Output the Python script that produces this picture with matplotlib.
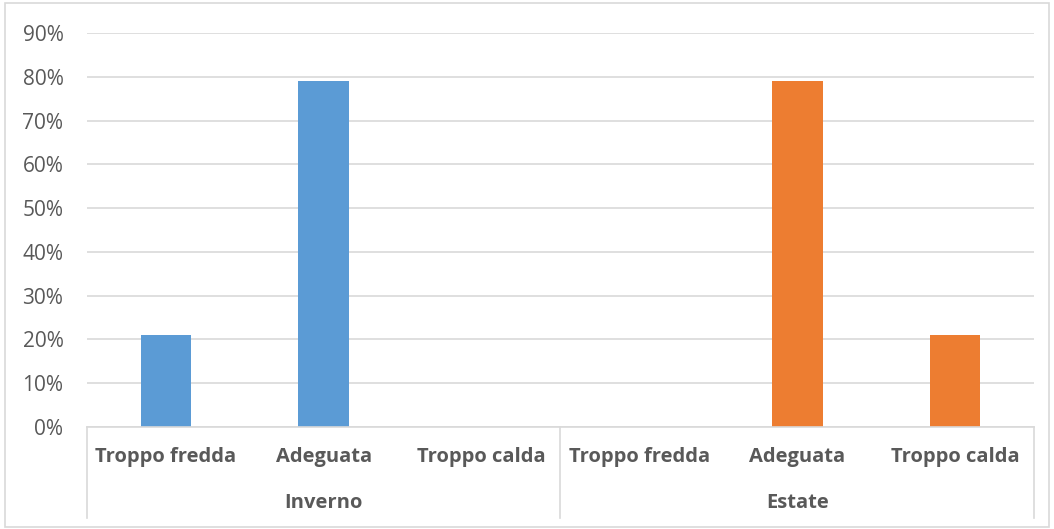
import matplotlib.pyplot as plt
import matplotlib.transforms as mtransforms
from matplotlib.patches import Rectangle
from matplotlib.ticker import PercentFormatter

# Dati
categorie = ["Troppo fredda", "Adeguata", "Troppo calda"]
stagioni = ["Inverno", "Estate"]
inverno = [0.21, 0.79, 0.0]
estate = [0.0, 0.79, 0.21]
y_ticks = [0.0, 0.1, 0.2, 0.3, 0.4, 0.5, 0.6, 0.7, 0.8, 0.9]

plt.rcParams["font.family"] = ["Open Sans", "DejaVu Sans"]
grigio_testo = "#595959"
grigio_linee = "#d9d9d9"

fig = plt.figure(figsize=(10.54, 5.29), dpi=100)
ax = fig.add_axes([87 / 1054, 102 / 529, (1034 - 87) / 1054, (427 - 33) / 529])

# bordo esterno del grafico
fig.patches.append(Rectangle((5 / 1054, 2 / 529), 1044 / 1054, 524 / 529,
                             transform=fig.transFigure, fill=False,
                             edgecolor=grigio_linee, linewidth=1.2))

n = len(categorie)
pos_inv = list(range(n))
pos_est = [n + i for i in range(n)]
larghezza = 0.32

ax.bar(pos_inv, inverno, width=larghezza, color="#5B9BD5", zorder=3)
ax.bar(pos_est, estate, width=larghezza, color="#ED7D31", zorder=3)

ax.set_xlim(-0.5, 2 * n - 0.5)
ax.set_ylim(0, 0.9)
ax.set_yticks(y_ticks)
ax.yaxis.set_major_formatter(PercentFormatter(1.0, decimals=0))
ax.tick_params(axis="y", length=0, pad=17, labelsize=15, labelcolor=grigio_testo)
ax.tick_params(axis="x", length=0, labelbottom=False)
ax.grid(axis="y", color=grigio_linee, linewidth=1.2, zorder=0)
ax.set_axisbelow(True)

for lato in ["left", "right", "top"]:
    ax.spines[lato].set_visible(False)
ax.spines["bottom"].set_color(grigio_linee)
ax.spines["bottom"].set_linewidth(1.2)
ax.spines["bottom"].set_zorder(4)

trans = mtransforms.blended_transform_factory(ax.transData, ax.transAxes)

# etichette delle categorie
for i, pos in enumerate(pos_inv + pos_est):
    ax.text(pos, -0.076, categorie[i % n], transform=trans, ha="center", va="center",
            fontsize=14.5, fontweight="bold", color=grigio_testo)

# etichette delle stagioni
for j, nome in enumerate(stagioni):
    ax.text(j * n + (n - 1) / 2, -0.193, nome, transform=trans, ha="center", va="center",
            fontsize=14.5, fontweight="bold", color=grigio_testo)

# separatori verticali dell'asse a due livelli
for x in [-0.5, n - 0.5, 2 * n - 0.5]:
    ax.plot([x, x], [0, -0.231], transform=trans, color=grigio_linee,
            linewidth=1.2, clip_on=False)

fig.savefig("out.png", dpi=100)
